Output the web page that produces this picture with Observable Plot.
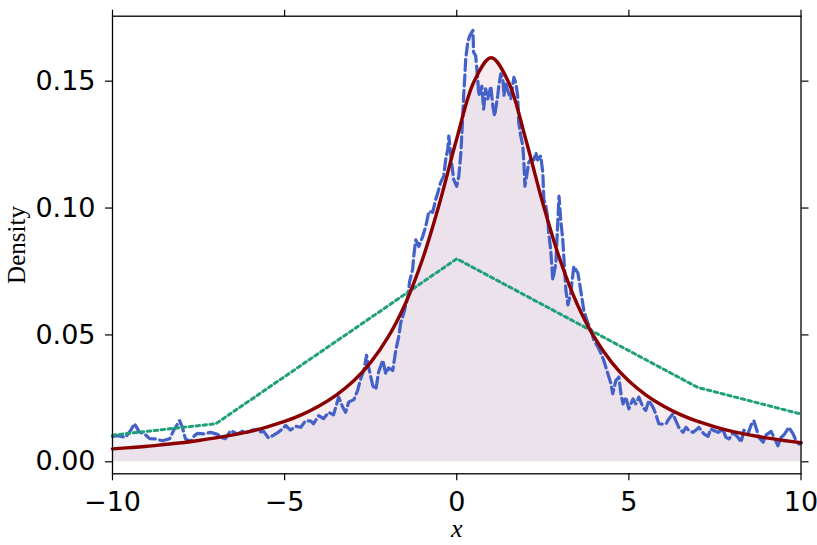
<!DOCTYPE html>
<html>
<head>
<meta charset="utf-8">
<script src="https://cdn.jsdelivr.net/npm/d3@7"></script>
<script src="https://cdn.jsdelivr.net/npm/@observablehq/plot@0.6"></script>
<style>
  html, body { margin: 0; padding: 0; background: #fff; }
  #chart svg { display: block; }
</style>
</head>
<body>
<div id="chart"></div>
<script>
// Fitted density (solid dark red)
const fitX = [-10,-9.5,-9,-8.5,-8,-7.5,-7,-6.5,-6,-5.5,-5,-4.5,-4,-3.5,-3,-2.5,-2,-1.5,-1,-0.5,0,0.5,1,1.5,2,2.5,3,3.5,4,4.5,5,5.5,6,6.5,7,7.5,8,8.5,9,9.5,10];
const fitY = [0.0051,0.0056,0.0061,0.0068,0.0075,0.0084,0.0094,0.0106,0.0120,0.0138,0.0159,0.0186,0.0220,0.0263,0.0318,0.0392,0.0490,0.0621,0.0796,0.1019,0.1273,0.1498,0.1592,0.1498,0.1273,0.1019,0.0796,0.0621,0.0490,0.0392,0.0318,0.0263,0.0220,0.0186,0.0159,0.0138,0.0120,0.0106,0.0094,0.0084,0.0075];

// Empirical density (dashed blue)
const empX = [-10.00,-9.83,-9.62,-9.48,-9.36,-9.22,-9.07,-8.92,-8.75,-8.55,-8.34,-8.20,-8.05,-7.97,-7.88,-7.73,-7.62,-7.53,-7.35,-7.15,-6.95,-6.83,-6.72,-6.57,-6.37,-6.19,-6.08,-5.93,-5.78,-5.70,-5.61,-5.47,-5.32,-5.20,-5.12,-4.97,-4.83,-4.68,-4.53,-4.39,-4.24,-4.16,-4.01,-3.87,-3.72,-3.58,-3.43,-3.31,-3.23,-3.14,-2.99,-2.88,-2.79,-2.70,-2.62,-2.56,-2.44,-2.35,-2.27,-2.15,-2.06,-1.98,-1.86,-1.77,-1.69,-1.63,-1.54,-1.42,-1.37,-1.28,-1.25,-1.19,-1.10,-0.99,-0.90,-0.81,-0.70,-0.61,-0.55,-0.47,-0.38,-0.32,-0.26,-0.23,-0.20,-0.15,-0.09,0.00,0.06,0.12,0.17,0.20,0.23,0.26,0.32,0.38,0.47,0.49,0.55,0.61,0.64,0.73,0.78,0.84,0.90,0.99,1.05,1.10,1.19,1.22,1.28,1.34,1.37,1.42,1.48,1.57,1.66,1.72,1.77,1.80,1.86,1.92,1.95,1.98,2.03,2.09,2.15,2.24,2.30,2.35,2.44,2.50,2.53,2.59,2.65,2.67,2.73,2.79,2.88,2.97,3.02,3.08,3.11,3.17,3.23,3.31,3.40,3.52,3.60,3.69,3.81,3.90,3.98,4.10,4.19,4.27,4.39,4.48,4.53,4.62,4.71,4.77,4.83,4.91,5.00,5.12,5.20,5.29,5.41,5.49,5.58,5.70,5.78,5.87,5.99,6.08,6.16,6.28,6.37,6.45,6.57,6.66,6.74,6.86,6.95,7.03,7.18,7.30,7.38,7.47,7.59,7.73,7.82,7.91,8.02,8.11,8.17,8.26,8.34,8.46,8.55,8.63,8.72,8.78,8.90,8.98,9.13,9.22,9.33,9.42,9.51,9.65,9.77,9.85,9.94,10.00];
const empY = [0.0100,0.0103,0.0096,0.0123,0.0150,0.0117,0.0110,0.0091,0.0090,0.0083,0.0091,0.0130,0.0162,0.0136,0.0090,0.0080,0.0103,0.0112,0.0110,0.0116,0.0108,0.0096,0.0091,0.0123,0.0110,0.0123,0.0116,0.0125,0.0129,0.0118,0.0120,0.0094,0.0105,0.0115,0.0123,0.0143,0.0125,0.0140,0.0136,0.0162,0.0160,0.0150,0.0182,0.0170,0.0195,0.0185,0.0255,0.0215,0.0195,0.0235,0.0245,0.0281,0.0327,0.0360,0.0420,0.0373,0.0300,0.0285,0.0354,0.0400,0.0347,0.0370,0.0360,0.0440,0.0490,0.0546,0.0586,0.0650,0.0710,0.0760,0.0810,0.0875,0.0849,0.0888,0.0928,0.0987,0.0983,0.1034,0.1060,0.1100,0.1126,0.1192,0.1232,0.1284,0.1245,0.1179,0.1113,0.1086,0.1126,0.1218,0.1350,0.1443,0.1509,0.1588,0.1654,0.1680,0.1700,0.1614,0.1600,0.1509,0.1443,0.1480,0.1390,0.1470,0.1430,0.1480,0.1400,0.1363,0.1443,0.1480,0.1529,0.1509,0.1443,0.1496,0.1463,0.1430,0.1515,0.1490,0.1443,0.1337,0.1284,0.1245,0.1179,0.1086,0.1126,0.1179,0.1192,0.1190,0.1218,0.1190,0.1205,0.1140,0.1034,0.1007,0.0954,0.0902,0.0836,0.0717,0.0784,0.1047,0.0954,0.0875,0.0810,0.0677,0.0618,0.0665,0.0770,0.0744,0.0677,0.0598,0.0546,0.0519,0.0480,0.0453,0.0427,0.0400,0.0347,0.0308,0.0268,0.0320,0.0334,0.0268,0.0228,0.0255,0.0209,0.0248,0.0228,0.0255,0.0215,0.0202,0.0242,0.0215,0.0189,0.0150,0.0148,0.0150,0.0169,0.0189,0.0160,0.0136,0.0116,0.0136,0.0123,0.0116,0.0125,0.0136,0.0110,0.0100,0.0130,0.0123,0.0116,0.0128,0.0096,0.0090,0.0113,0.0105,0.0096,0.0077,0.0125,0.0110,0.0145,0.0162,0.0123,0.0096,0.0077,0.0105,0.0120,0.0096,0.0063,0.0096,0.0107,0.0136,0.0110,0.0085,0.0070,0.0075];

// Piecewise reference line (dotted green)
const refX = [-10, -7, 0, 7, 10];
const refY = [0.0105, 0.0150, 0.0800, 0.0293, 0.0188];

// Axis ticks and labels
const xTicks = [-10, -5, 0, 5, 10];
const yTicks = [0.00, 0.05, 0.10, 0.15];
const xLabel = "x";
const yLabel = "Density";

const fit = fitX.map((x, i) => ({x, y: fitY[i]}));
const emp = empX.map((x, i) => ({x, y: empY[i]}));
const ref = refX.map((x, i) => ({x, y: refY[i]}));

const tickFont = "DejaVu Sans, sans-serif";
const fmtX = d => d < 0 ? "\u2212" + (-d) : String(d);

const chart = Plot.plot({
  width: 817,
  height: 545,
  marginLeft: 112,
  marginRight: 16.5,
  marginTop: 15.7,
  marginBottom: 71.7,
  style: {background: "#fff", overflow: "visible"},
  x: {domain: [-10, 10]},
  y: {domain: [-0.00473, 0.1756]},
  marks: [
    Plot.areaY(fit, {x: "x", y: "y", fill: "#a8305a", fillOpacity: 0.09, curve: "catmull-rom"}),
    Plot.areaY(emp, {x: "x", y: "y", fill: "#6070c0", fillOpacity: 0.08}),
    Plot.line(emp, {x: "x", y: "y", stroke: "#4361c9", strokeWidth: 3.2, strokeDasharray: "11,4.5", strokeLinejoin: "round"}),
    Plot.line(ref, {x: "x", y: "y", stroke: "#1fa07a", strokeWidth: 3, strokeDasharray: "3.5,3.5"}),
    Plot.line(fit, {x: "x", y: "y", stroke: "#8b0000", strokeWidth: 3.4, curve: "catmull-rom"}),
    Plot.frame({stroke: "#000", strokeWidth: 1.3}),
    Plot.axisX({anchor: "bottom", ticks: xTicks, tickSize: 7, tickPadding: 11, tickFormat: fmtX,
      fontSize: 27, fontFamily: tickFont, label: null, stroke: "#000", strokeWidth: 1.2, fill: "#000"}),
    Plot.axisX({anchor: "top", ticks: xTicks, tickSize: 7, tickFormat: () => "", label: null, stroke: "#000", strokeWidth: 1.2}),
    Plot.axisY({anchor: "left", ticks: yTicks, tickSize: 7, tickPadding: 10, tickFormat: d3.format(".2f"),
      fontSize: 27, fontFamily: tickFont, label: null, stroke: "#000", strokeWidth: 1.2, fill: "#000"}),
    Plot.axisY({anchor: "right", ticks: yTicks, tickSize: 7, tickFormat: () => "", label: null, stroke: "#000", strokeWidth: 1.2}),
    Plot.text([yLabel], {frameAnchor: "left", dx: -96, rotate: -90, text: d => d, fontSize: 25,
      textAnchor: "middle", fontFamily: "Liberation Serif, serif", fill: "#000", lineAnchor: "middle"}),
    Plot.text([xLabel], {frameAnchor: "bottom", dy: 55, text: d => d, fontSize: 26, fontStyle: "italic",
      textAnchor: "middle", fontFamily: "Liberation Serif, serif", fill: "#000", lineAnchor: "middle"})
  ]
});
document.getElementById("chart").appendChild(chart);
</script>
</body>
</html>
